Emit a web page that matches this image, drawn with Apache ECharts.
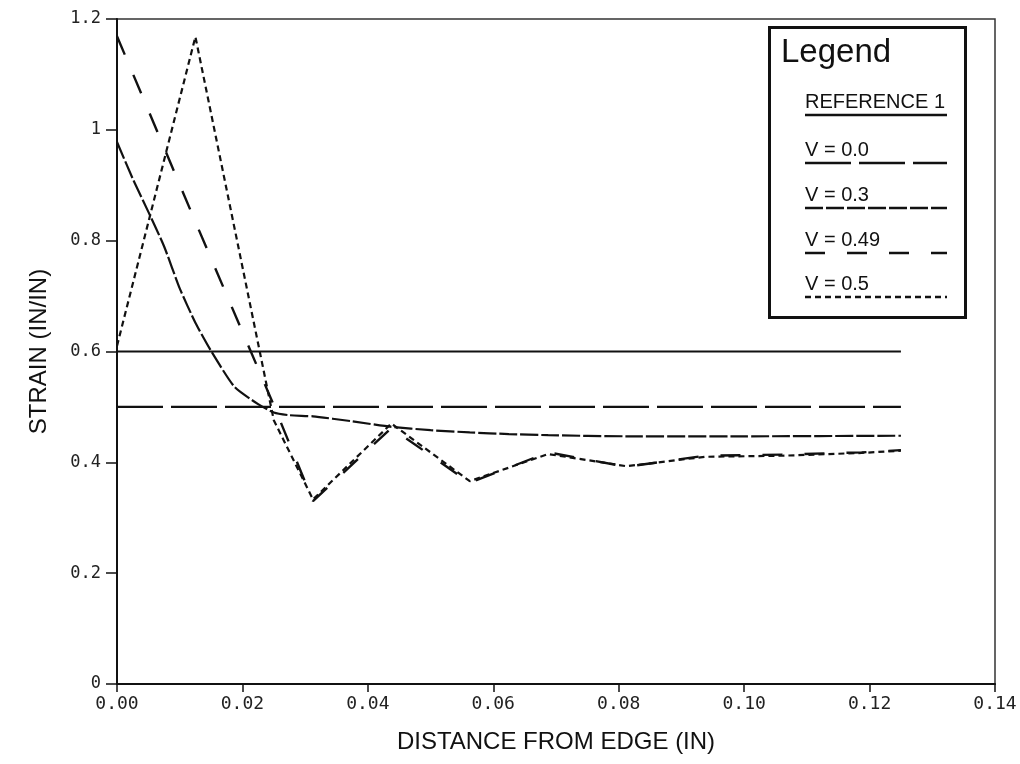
<!DOCTYPE html>
<html>
<head>
<meta charset="utf-8">
<script src="https://cdn.jsdelivr.net/npm/echarts@6/dist/echarts.min.js"></script>
<style>
html,body{margin:0;padding:0;background:#fff;}
#chart{width:1020px;height:764px;}
</style>
</head>
<body>
<div id="chart"></div>
<script>
// ---- data ----
const xTicks = [0, 0.02, 0.04, 0.06, 0.08, 0.10, 0.12, 0.14];
const yTicks = [0, 0.2, 0.4, 0.6, 0.8, 1, 1.2];

const refX = [0, 0.125];
const refY = [0.6, 0.6];

const v00X = [0, 0.125];
const v00Y = [0.5, 0.5];

const v03X = [0, 0.0025, 0.005, 0.0075, 0.01, 0.0125, 0.015, 0.01875, 0.0225, 0.025, 0.0275, 0.03125, 0.0375, 0.04375, 0.05, 0.05625, 0.0625, 0.06875, 0.08125, 0.1, 0.125];
const v03Y = [0.978, 0.912, 0.852, 0.790, 0.714, 0.652, 0.601, 0.536, 0.505, 0.490, 0.485, 0.483, 0.474, 0.464, 0.458, 0.454, 0.451, 0.449, 0.447, 0.447, 0.448];

const v049X = [0, 0.0125, 0.025, 0.03125, 0.04375, 0.05625, 0.06875, 0.08125, 0.09375, 0.10625, 0.11875, 0.125];
const v049Y = [1.169, 0.834, 0.503, 0.330, 0.462, 0.363, 0.418, 0.392, 0.412, 0.414, 0.418, 0.422];

const v05X = [0, 0.0125, 0.025, 0.03125, 0.04375, 0.05625, 0.06875, 0.08125, 0.09375, 0.10625, 0.11875, 0.125];
const v05Y = [0.610, 1.168, 0.476, 0.333, 0.470, 0.366, 0.415, 0.393, 0.410, 0.412, 0.417, 0.421];

const legendLabels = ['REFERENCE 1', 'V = 0.0', 'V = 0.3', 'V = 0.49', 'V = 0.5'];
// ---------------------------------------

const dashes = ['solid', [46, 8], [18, 3], [20, 22], [6, 4]];
const widths = [2, 2.2, 2.2, 2.4, 2.2];

function pairs(xs, ys) { return xs.map((x, i) => [x, ys[i]]); }
const seriesData = [pairs(refX, refY), pairs(v00X, v00Y), pairs(v03X, v03Y), pairs(v049X, v049Y), pairs(v05X, v05Y)];

const chart = echarts.init(document.getElementById('chart'), null, {renderer: 'canvas'});

const series = seriesData.map((d, i) => ({
  name: legendLabels[i],
  type: 'line',
  data: d,
  showSymbol: false,
  symbol: 'none',
  smooth: i === 2 ? 0.2 : false,
  lineStyle: {color: '#111', width: widths[i], type: dashes[i]},
  z: 3
}));

// legend graphic
const lgX = 768, lgY = 26, lgW = 196, lgH = 290;
const graphics = [
  {type: 'rect', left: lgX, top: lgY, shape: {x: 0, y: 0, width: lgW, height: lgH},
   style: {fill: '#fff', stroke: '#111', lineWidth: 3}, z: 10},
  {type: 'text', left: 781, top: 36, style: {text: 'Legend', font: '33px "Liberation Sans", Arial, sans-serif', fill: '#111'}, z: 11}
];
const itemTop = [92, 140, 185, 230, 274];
legendLabels.forEach((lab, i) => {
  graphics.push({type: 'text', left: 805, top: itemTop[i],
    style: {text: lab, font: '20px "Liberation Sans", Arial, sans-serif', fill: '#111'}, z: 11});
  const ly = itemTop[i] + 23;
  graphics.push({type: 'line', shape: {x1: 805, y1: ly, x2: 947, y2: ly},
    style: {stroke: '#111', lineWidth: 2.4, lineDash: dashes[i] === 'solid' ? null : dashes[i]}, z: 11});
});

chart.setOption({
  animation: false,
  backgroundColor: '#fff',
  grid: {left: 117, right: 25, top: 19, bottom: 80, show: true, borderColor: '#333', borderWidth: 1.5, backgroundColor: 'transparent'},
  xAxis: {
    type: 'value', min: 0, max: 0.14, interval: 0.02,
    name: 'DISTANCE FROM EDGE (IN)', nameLocation: 'middle', nameGap: 46,
    nameTextStyle: {fontFamily: '"Liberation Sans", Arial, sans-serif', fontSize: 24, color: '#111'},
    axisLine: {lineStyle: {color: '#111', width: 2}},
    axisTick: {inside: false, length: 8, lineStyle: {color: '#111', width: 1.5}},
    axisLabel: {formatter: v => v.toFixed(2), fontFamily: '"DejaVu Sans Mono", monospace', fontSize: 18, color: '#222', margin: 11},
    splitLine: {show: false}
  },
  yAxis: {
    type: 'value', min: 0, max: 1.2, interval: 0.2,
    name: 'STRAIN (IN/IN)', nameLocation: 'middle', nameGap: 66,
    nameTextStyle: {fontFamily: '"Liberation Sans", Arial, sans-serif', fontSize: 24, color: '#111'},
    axisLine: {show: true, lineStyle: {color: '#111', width: 2}},
    axisTick: {show: true, inside: false, length: 11, lineStyle: {color: '#111', width: 1.5}},
    axisLabel: {formatter: v => String(Math.round(v * 10) / 10), fontFamily: '"DejaVu Sans Mono", monospace', fontSize: 17, color: '#222', margin: 16},
    splitLine: {show: false}
  },
  series: series,
  graphic: graphics
});
</script>
</body>
</html>
